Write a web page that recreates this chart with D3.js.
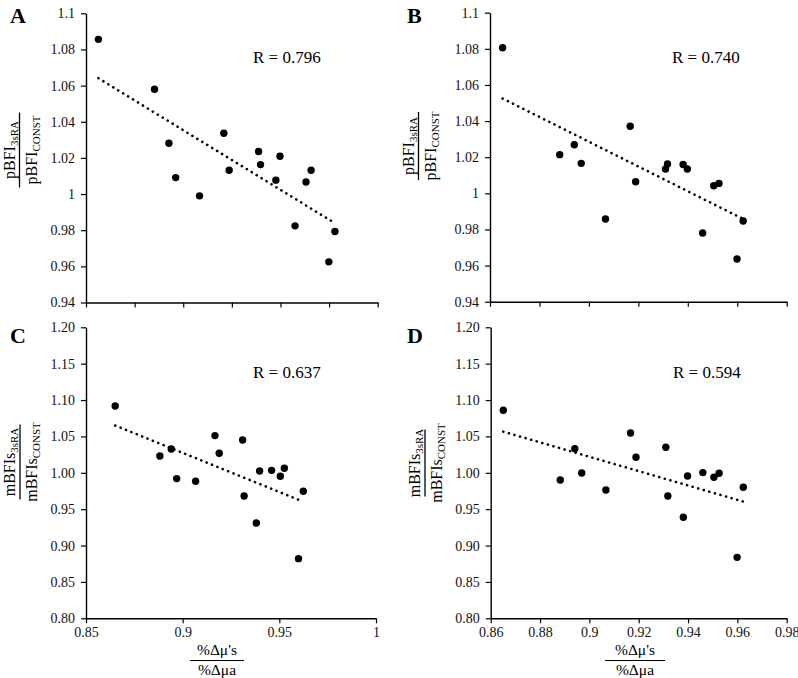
<!DOCTYPE html>
<html>
<head>
<meta charset="utf-8">
<script src="https://cdn.jsdelivr.net/npm/d3@7"></script>
<style>
  html, body { margin: 0; padding: 0; background: #fff; }
  svg { display: block; font-family: "Liberation Serif", "Times New Roman", serif; }
</style>
</head>
<body>
<svg id="chart" width="798" height="678"></svg>
<script>
// ---------------- DATA ----------------
const xRatio = [0.8651, 0.8882, 0.8941, 0.8969, 0.9067, 0.9167, 0.9189, 0.9310,
                0.9318, 0.9381, 0.9398, 0.9460, 0.9505, 0.9526, 0.9599, 0.9624];

const yA = [1.0856, 1.0580, 1.0281, 1.0091, 0.9990, 1.0336, 1.0132, 1.0235,
            1.0163, 1.0077, 1.0209, 0.9824, 1.0067, 1.0132, 0.9625, 0.9793];
const yB = [1.0806, 1.0214, 1.0269, 1.0166, 0.9858, 1.0371, 1.0064, 1.0135,
            1.0162, 1.0160, 1.0135, 0.9780, 1.0042, 1.0055, 0.9636, 0.9847];
const yC = [1.0919, 1.0231, 1.0328, 0.9920, 0.9883, 1.0511, 1.0268, 1.0451,
            0.9682, 0.9310, 1.0025, 1.0034, 0.9952, 1.0062, 0.8820, 0.9746];
const yD = [1.0859, 0.9901, 1.0332, 0.9998, 0.9764, 1.0548, 1.0213, 1.0351,
            0.9682, 0.9388, 0.9956, 1.0003, 0.9938, 0.9993, 0.8838, 0.9801];

// trend line values at the first and last x
const trendA = [1.0641, 0.9839];
const trendB = [1.0525, 0.9858];
const trendC = [1.0650, 0.9603];
const trendD = [1.0566, 0.9604];

const rLabels = ["R = 0.796", "R = 0.740", "R = 0.637", "R = 0.594"];
const panelLetters = ["A", "B", "C", "D"];

const yTicksAB = [0.94, 0.96, 0.98, 1.00, 1.02, 1.04, 1.06, 1.08, 1.10];
const yTickLabelsAB = ["0.94", "0.96", "0.98", "1", "1.02", "1.04", "1.06", "1.08", "1.1"];
const yTicksCD = [0.80, 0.85, 0.90, 0.95, 1.00, 1.05, 1.10, 1.15, 1.20];
const yTickLabelsCD = ["0.80", "0.85", "0.90", "0.95", "1.00", "1.05", "1.10", "1.15", "1.20"];
const xTicksAB = [0.86, 0.88, 0.90, 0.92, 0.94, 0.96, 0.98];
const xTicksC = [0.85, 0.90, 0.95, 1.00];
const xTickLabelsC = ["0.85", "0.9", "0.95", "1"];
const xTicksD = [0.86, 0.88, 0.90, 0.92, 0.94, 0.96, 0.98];
const xTickLabelsD = ["0.86", "0.88", "0.9", "0.92", "0.94", "0.96", "0.98"];

const yLabelNum = [["pBFI", "3sRA"], ["pBFI", "3sRA"], ["mBFIs", "3sRA"], ["mBFIs", "3sRA"]];
const yLabelDen = [["pBFI", "CONST"], ["pBFI", "CONST"], ["mBFIs", "CONST"], ["mBFIs", "CONST"]];
const xLabelNum = "%Δμ's";
const xLabelDen = "%Δμa";

// ---------------- LAYOUT ----------------
const panels = [
  { y: yA, trend: trendA, xDom: [0.86, 0.98], yDom: [0.94, 1.10], xT: xTicksAB, xL: null,
    yT: yTicksAB, yL: yTickLabelsAB,
    left: 86, right: 377.7, top: 13.3, bottom: 302.5,
    letter: [10, 23], r: [253, 63], ylab: { x: 19.5, cy: 150, len: 75 }, xlab: null },
  { y: yB, trend: trendB, xDom: [0.86, 0.98], yDom: [0.94, 1.10], xT: xTicksAB, xL: null,
    yT: yTicksAB, yL: yTickLabelsAB,
    left: 490, right: 786.7, top: 12.7, bottom: 301.7,
    letter: [407, 23], r: [672, 63], ylab: { x: 418.5, cy: 146, len: 68 }, xlab: null },
  { y: yC, trend: trendC, xDom: [0.85, 1.00], yDom: [0.80, 1.20], xT: xTicksC, xL: xTickLabelsC,
    yT: yTicksCD, yL: yTickLabelsCD,
    left: 86, right: 376, top: 327.3, bottom: 618.3,
    letter: [10, 343], r: [253, 378], ylab: { x: 20, cy: 462, len: 75 }, xlab: { cx: 217, len: 54 } },
  { y: yD, trend: trendD, xDom: [0.86, 0.98], yDom: [0.80, 1.20], xT: xTicksD, xL: xTickLabelsD,
    yT: yTicksCD, yL: yTickLabelsCD,
    left: 490.7, right: 786.7, top: 327.3, bottom: 618.3,
    letter: [407, 343], r: [673, 378], ylab: { x: 425, cy: 463, len: 67 }, xlab: { cx: 635, len: 60 } }
];

const svg = d3.select("#chart");

panels.forEach((p, i) => {
  const g = svg.append("g");
  const x = d3.scaleLinear().domain(p.xDom).range([p.left, p.right]);
  const y = d3.scaleLinear().domain(p.yDom).range([p.bottom, p.top]);

  // y axis
  const yAxis = d3.axisLeft(y).tickValues(p.yT).tickSizeInner(5).tickSizeOuter(0).tickPadding(6)
    .tickFormat((d, k) => p.yL[k]);
  const ya = g.append("g").attr("transform", `translate(${p.left},0)`).call(yAxis);

  // x axis
  const xAxis = d3.axisBottom(x).tickValues(p.xT).tickSizeInner(5).tickSizeOuter(0).tickPadding(4)
    .tickFormat((d, k) => p.xL ? p.xL[k] : "");
  const xa = g.append("g").attr("transform", `translate(0,${p.bottom})`).call(xAxis);

  [ya, xa].forEach(a => {
    a.select(".domain").attr("stroke", "#000").attr("stroke-width", 1.4);
    a.selectAll(".tick line").attr("stroke", "#000").attr("stroke-width", 1.2);
    a.selectAll(".tick text").attr("fill", "#111").style("font-size", "14px")
      .style("font-family", "'Liberation Serif', 'Times New Roman', serif");
  });

  // trend line (dotted)
  const xs = d3.extent(xRatio);
  g.append("line")
    .attr("x1", x(xs[0])).attr("y1", y(p.trend[0]))
    .attr("x2", x(xs[1])).attr("y2", y(p.trend[1]))
    .attr("stroke", "#000").attr("stroke-width", 2.6)
    .attr("stroke-linecap", "round").attr("stroke-dasharray", "0.1,5.7");

  // points
  g.selectAll("circle.pt").data(p.y).join("circle")
    .attr("class", "pt")
    .attr("cx", (d, k) => x(xRatio[k]))
    .attr("cy", d => y(d))
    .attr("r", 3.7).attr("fill", "#000");

  // R label
  g.append("text").attr("x", p.r[0]).attr("y", p.r[1])
    .style("font-size", "17px").attr("fill", "#000").text(rLabels[i]);

  // panel letter
  g.append("text").attr("x", p.letter[0]).attr("y", p.letter[1])
    .style("font-size", "22px").style("font-weight", "bold").attr("fill", "#000").text(panelLetters[i]);

  // y axis label (fraction, rotated)
  const yl = g.append("g").attr("transform", `translate(${p.ylab.x},${p.ylab.cy}) rotate(-90)`);
  yl.append("line").attr("x1", -p.ylab.len / 2).attr("x2", p.ylab.len / 2)
    .attr("y1", 0).attr("y2", 0).attr("stroke", "#000").attr("stroke-width", 1.3);
  const num = yl.append("text").attr("x", 0).attr("y", -5).attr("text-anchor", "middle")
    .style("font-size", "16px").attr("fill", "#000");
  num.append("tspan").text(yLabelNum[i][0]);
  num.append("tspan").attr("dy", 3).style("font-size", "11px").text(yLabelNum[i][1]);
  const den = yl.append("text").attr("x", 0).attr("y", 17).attr("text-anchor", "middle")
    .style("font-size", "16px").attr("fill", "#000");
  den.append("tspan").text(yLabelDen[i][0]);
  den.append("tspan").attr("dy", 3).style("font-size", "11px").text(yLabelDen[i][1]);

  // x axis label (fraction)
  if (p.xlab) {
    g.append("line").attr("x1", p.xlab.cx - p.xlab.len / 2).attr("x2", p.xlab.cx + p.xlab.len / 2)
      .attr("y1", 660.5).attr("y2", 660.5).attr("stroke", "#000").attr("stroke-width", 1.2);
    g.append("text").attr("x", p.xlab.cx).attr("y", 655).attr("text-anchor", "middle")
      .style("font-size", "15.5px").attr("fill", "#000").text(xLabelNum);
    g.append("text").attr("x", p.xlab.cx).attr("y", 675).attr("text-anchor", "middle")
      .style("font-size", "15.5px").attr("fill", "#000").text(xLabelDen);
  }
});
</script>
</body>
</html>
